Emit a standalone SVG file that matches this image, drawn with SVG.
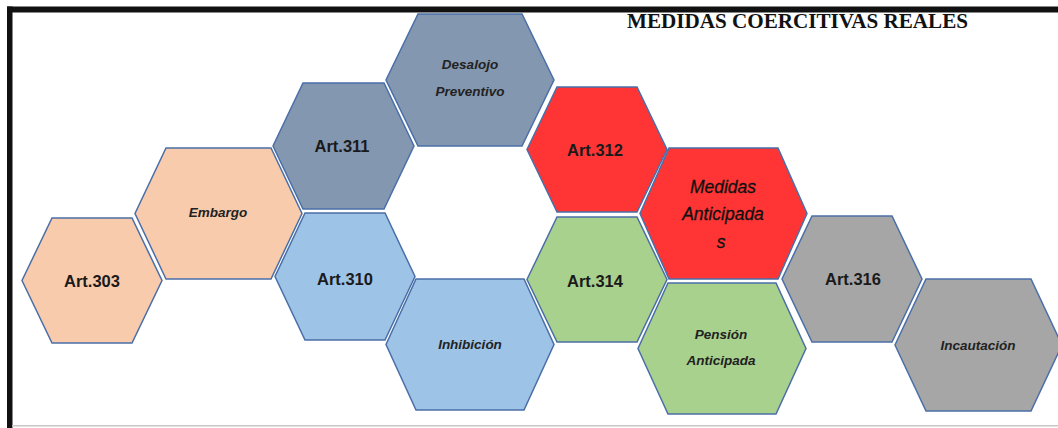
<svg xmlns="http://www.w3.org/2000/svg" width="1058" height="428" viewBox="0 0 1058 428">
<style>
.hex{stroke:#4A6FA8;stroke-width:1.5;stroke-linejoin:miter}
.peach{fill:#F8CBAD}.slate{fill:#8497B0}.sky{fill:#9DC3E6}.red{fill:#FF3535}.green{fill:#A9D18E}.gray{fill:#A6A6A6}
.art{font-family:"Liberation Sans",Arial,sans-serif;font-weight:bold;font-size:16.5px;fill:#1a1a1a;text-anchor:middle}
.lbl{font-family:"Liberation Sans",Arial,sans-serif;font-weight:bold;font-style:italic;font-size:13.5px;fill:#222;text-anchor:middle}
.big{font-family:"Liberation Sans",Arial,sans-serif;font-style:italic;font-size:17.5px;fill:#111;text-anchor:middle;stroke:#111;stroke-width:0.3}
.title{font-family:"Liberation Serif","Times New Roman",serif;font-weight:bold;font-size:22px;fill:#111}
</style>
<rect width="1058" height="428" fill="#ffffff"/>
<text class="title" x="627" y="27.5" textLength="341" lengthAdjust="spacingAndGlyphs">MEDIDAS COERCITIVAS REALES</text>
<g id="frame">
<rect x="7" y="6.5" width="1051" height="6" fill="#111"/>
<rect x="7" y="6.5" width="5.5" height="421.5" fill="#111"/>
<rect x="12" y="425" width="1046" height="1.5" fill="#c8c8c8"/>
</g>
<g id="connectors"></g>
<g id="art303"><polygon class="hex peach" points="52,218 132,218 162,280.5 132,343 52,343 22,280.5"/><text class="art" x="92" y="287">Art.303</text></g>
<g id="embargo"><polygon class="hex peach" points="166,148 271,148 302,213.5 271,279 166,279 135,213.5"/><text class="lbl" x="218" y="217">Embargo</text></g>
<g id="art311"><polygon class="hex slate" points="303,83 384,83 414,146 384,209 303,209 273,146"/><text class="art" x="342" y="152">Art.311</text></g>
<g id="desalojo"><polygon class="hex slate" points="418,14 522,14 554,80 522,146 418,146 386,80"/><text class="lbl" x="470" y="69">Desalojo</text><text class="lbl" x="470" y="96">Preventivo</text></g>
<g id="art310"><polygon class="hex sky" points="305,213 385,213 415,276.5 385,340 305,340 275,276.5"/><text class="art" x="345" y="285">Art.310</text></g>
<g id="inhibicion"><polygon class="hex sky" points="416,279 524,279 554,344.5 524,410 416,410 386,344.5"/><text class="lbl" x="470" y="349">Inhibición</text></g>
<g id="art312"><polygon class="hex red" points="557,87 637,87 667,149.5 637,212 557,212 527,149.5"/><text class="art" x="595" y="156">Art.312</text></g>
<g id="medidas"><polygon class="hex red" points="669,148 778,148 807,213.5 778,279 669,279 640,213.5"/><text class="big" x="723" y="193">Medidas</text><text class="big" x="723" y="220">Anticipada</text><text class="big" x="721" y="248">s</text></g>
<g id="art314"><polygon class="hex green" points="557,217 637,217 667,279.5 637,342 557,342 527,279.5"/><text class="art" x="595" y="287">Art.314</text></g>
<g id="pension"><polygon class="hex green" points="668,283 776,283 806,348.5 776,414 668,414 638,348.5"/><text class="lbl" x="721" y="339">Pensión</text><text class="lbl" x="721" y="365">Anticipada</text></g>
<g id="art316"><polygon class="hex gray" points="812,216 892,216 922,279 892,342 812,342 782,279"/><text class="art" x="853" y="285">Art.316</text></g>
<g id="incautacion"><polygon class="hex gray" points="926,279 1031,279 1062,345 1031,411 926,411 895,345"/><text class="lbl" x="978" y="350">Incautación</text></g>
</svg>
